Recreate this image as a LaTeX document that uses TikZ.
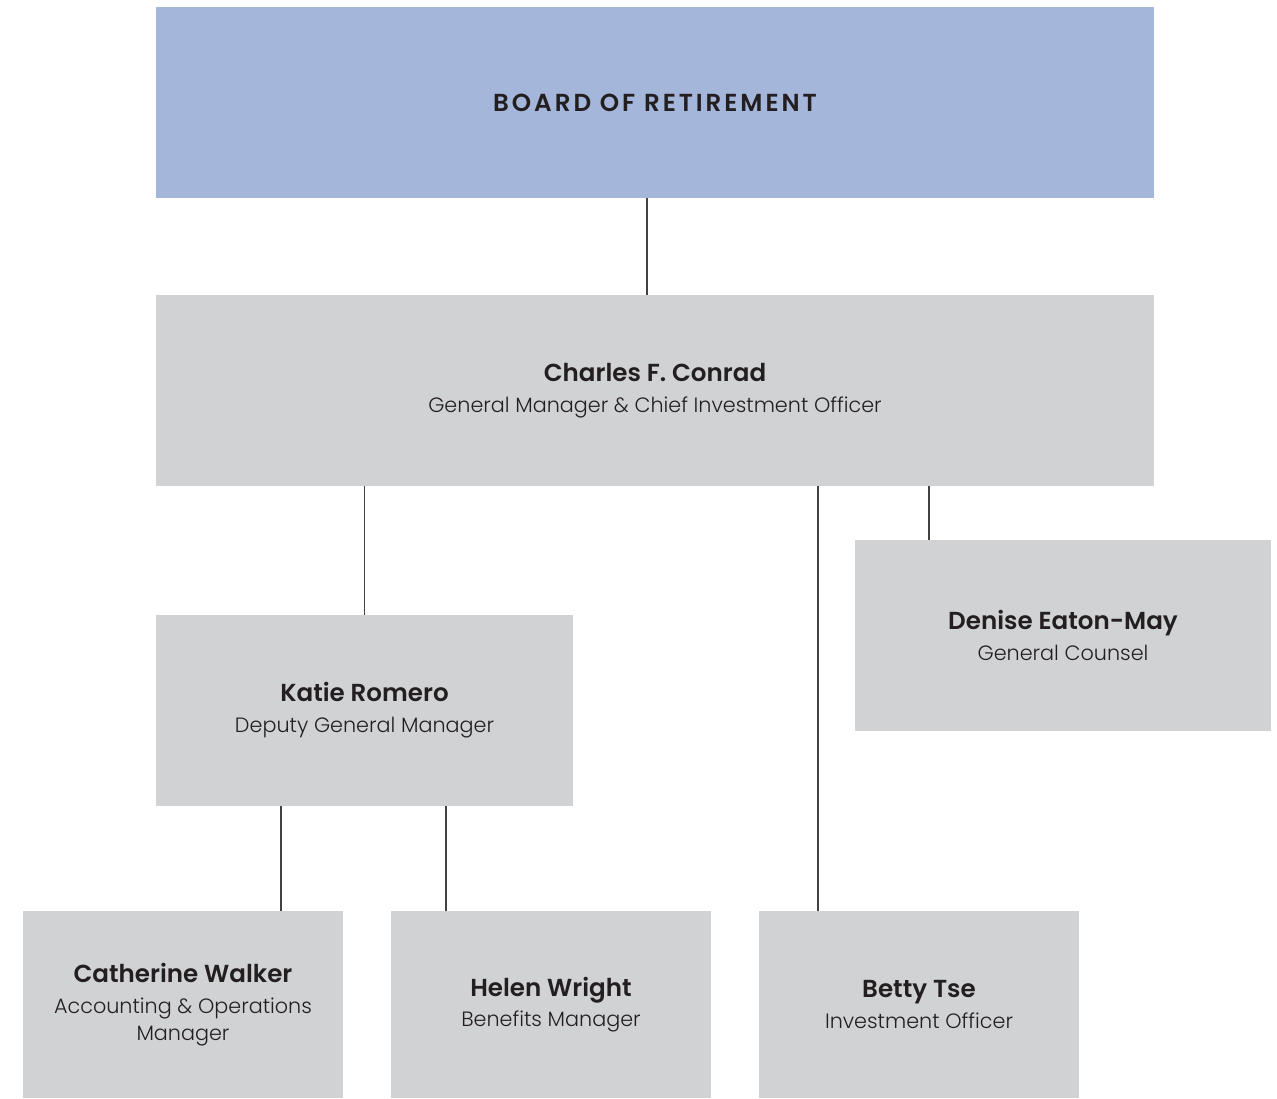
\documentclass[tikz,border=0pt]{standalone}
\usepackage{fontspec}
\setmainfont{Poppins}
\newfontfamily\lightfont{Poppins Light}
\usetikzlibrary{positioning}

\definecolor{boardblue}{HTML}{A4B6D9}
\definecolor{boxgray}{HTML}{D1D2D4}
\definecolor{inkgray}{HTML}{231F20}

\newcommand\who[1]{{\fontsize{14pt}{15.5pt}\selectfont\bfseries #1}}
\newcommand\what{\lightfont\fontsize{11.8pt}{15.5pt}\selectfont}

\begin{document}
\begin{tikzpicture}[x=0.02cm,y=-0.02cm,
    person/.style={rectangle,fill=boxgray,inner sep=0pt,align=center,
      text=inkgray,font=\what},
    link/.style={draw=inkgray!85,line width=0.8pt}]
  \useasboundingbox (0,0) rectangle (1277,1098);

  % boxes
  \node[person,fill=boardblue,minimum width=19.96cm,minimum height=3.82cm]
    (board) at (655,102.5) {\fontsize{14pt}{15pt}\selectfont\bfseries\addfontfeature{LetterSpace=12}BOARD OF RETIREMENT};
  \node[person,minimum width=19.96cm,minimum height=3.82cm] (conrad) at (655,390.5)
    {\who{Charles F. Conrad}\\[2pt]General Manager \& Chief Investment Officer};
  \node[person,minimum width=8.32cm,minimum height=3.82cm] (denise) at (1063,635.5)
    {\who{Denise Eaton-May}\\[2pt]General Counsel};
  \node[person,minimum width=8.34cm,minimum height=3.82cm] (katie) at (364.5,710.5)
    {\who{Katie Romero}\\[2pt]Deputy General Manager};
  \node[person,minimum width=6.4cm,minimum height=3.74cm] (catherine) at (183,1004.5)
    {\who{Catherine Walker}\\[2pt]Accounting \& Operations\\Manager};
  \node[person,minimum width=6.4cm,minimum height=3.74cm] (helen) at (551,1004.5)
    {\who{Helen Wright}\\[2pt]Benefits Manager};
  \node[person,minimum width=6.4cm,minimum height=3.74cm] (betty) at (919,1004.5)
    {\who{Betty Tse}\\[2pt]Investment Officer};

  % connectors
  \coordinate (boardout) at ([xshift=-0.16cm]board.south);
  \coordinate (bettyin) at ([xshift=-2.02cm]betty.north);
  \coordinate (denisein) at ([xshift=-2.68cm]denise.north);
  \coordinate (catherinein) at ([xshift=1.96cm]catherine.north);
  \coordinate (helenin) at ([xshift=-2.10cm]helen.north);

  \draw[link] (boardout) -- (boardout |- conrad.north);
  \draw[link] (katie.north |- conrad.south) -- (katie.north);
  \draw[link] (bettyin |- conrad.south) -- (bettyin);
  \draw[link] (denisein |- conrad.south) -- (denisein);
  \draw[link] (catherinein |- katie.south) -- (catherinein);
  \draw[link] (helenin |- katie.south) -- (helenin);
\end{tikzpicture}
\end{document}
